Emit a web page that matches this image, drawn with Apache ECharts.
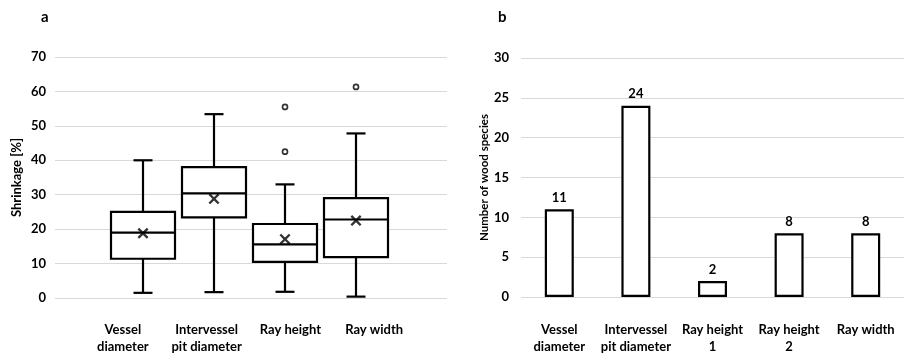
<!DOCTYPE html>
<html>
<head>
<meta charset="utf-8">
<script src="https://cdn.jsdelivr.net/npm/echarts@6/dist/echarts.min.js"></script>
<style>
  html, body { margin: 0; padding: 0; background: #fff; }
  #chart { width: 904px; height: 355px; }
</style>
</head>
<body>
<div id="chart"></div>
<script>
// panel a: shrinkage box plots  [min, Q1, median, Q3, max]
const boxCategories = ['Vessel\ndiameter', 'Intervessel\npit diameter', 'Ray height', 'Ray width'];
const boxStats = [
    [1.5, 11.4, 19.0, 25.0, 40.0],
    [1.7, 23.4, 30.4, 38.0, 53.4],
    [1.8, 10.5, 15.6, 21.5, 33.0],
    [0.4, 11.9, 22.8, 29.0, 47.8]
];
const boxMeans = [18.8, 28.8, 17.1, 22.5];
const boxOutliers = [[2, 55.5], [2, 42.5], [3, 61.3]];

// panel b: number of wood species
const barCategories = ['Vessel\ndiameter', 'Intervessel\npit diameter', 'Ray height\n1', 'Ray height\n2', 'Ray width'];
const barValues = [11, 24, 2, 8, 8];

const FONT = 'Lato, "Open Sans", sans-serif';
const TXT = '#000';
const GRID_LINE = '#d9d9d9';

const chart = echarts.init(document.getElementById('chart'));

const options = {
    animation: false,
    textStyle: { fontFamily: FONT },
    title: [
        { text: 'a', left: 36, top: 5, textStyle: { fontSize: 15, fontWeight: 'bold', color: TXT, fontFamily: FONT } },
        { text: 'b', left: 493, top: 5, textStyle: { fontSize: 15, fontWeight: 'bold', color: TXT, fontFamily: FONT } }
    ],
    grid: [
        { left: 55, top: 57, width: 392, height: 241 },    // a: background + y axis
        { left: 107.5, top: 57, width: 284, height: 241 }, // a: boxes
        { left: 81, top: 57, width: 335, height: 241 },    // a: category labels
        { left: 521, top: 58, width: 386, height: 240 }    // b
    ],
    xAxis: [
        { gridIndex: 0, type: 'category', data: [''], axisLine: { show: false }, axisTick: { show: false }, axisLabel: { show: false } },
        { gridIndex: 1, type: 'category', data: boxCategories, show: false },
        {
            gridIndex: 2, type: 'category', data: boxCategories,
            axisLine: { show: false }, axisTick: { show: false },
            axisLabel: { margin: 24, fontSize: 13, fontWeight: 'bold', color: TXT, lineHeight: 17, fontFamily: FONT, interval: 0 }
        },
        {
            gridIndex: 3, type: 'category', data: barCategories,
            axisLine: { show: false }, axisTick: { show: false },
            axisLabel: { margin: 24, fontSize: 13, fontWeight: 'bold', color: TXT, lineHeight: 17, fontFamily: FONT, interval: 0 }
        }
    ],
    yAxis: [
        {
            gridIndex: 0, type: 'value', min: 0, max: 70, interval: 10,
            name: 'Shrinkage [%]', nameLocation: 'middle', nameGap: 32,
            nameTextStyle: { fontSize: 13, fontWeight: 'bold', color: TXT, fontFamily: FONT },
            axisLine: { show: false }, axisTick: { show: false },
            axisLabel: { fontSize: 13, fontWeight: 'bold', color: TXT, margin: 9, fontFamily: FONT },
            splitLine: { lineStyle: { color: GRID_LINE, width: 1 } }
        },
        { gridIndex: 1, type: 'value', min: 0, max: 70, show: false, splitLine: { show: false } },
        { gridIndex: 2, type: 'value', min: 0, max: 70, show: false, splitLine: { show: false } },
        {
            gridIndex: 3, type: 'value', min: 0, max: 30, interval: 5,
            name: 'Number of wood species', nameLocation: 'middle', nameGap: 27,
            nameTextStyle: { fontSize: 11.5, fontWeight: 'bold', color: TXT, fontFamily: FONT },
            axisLine: { show: false }, axisTick: { show: false },
            axisLabel: { fontSize: 13, fontWeight: 'bold', color: TXT, margin: 12, fontFamily: FONT },
            splitLine: { lineStyle: { color: GRID_LINE, width: 1 } }
        }
    ],
    series: [
        {
            type: 'custom',
            xAxisIndex: 1, yAxisIndex: 1,
            data: boxStats.map((s, i) => [i].concat(s)),
            encode: { x: 0, y: [1, 2, 3, 4, 5] },
            renderItem: function (params, api) {
                const i = api.value(0);
                const pMin = api.coord([i, api.value(1)]);
                const pQ1 = api.coord([i, api.value(2)]);
                const pMed = api.coord([i, api.value(3)]);
                const pQ3 = api.coord([i, api.value(4)]);
                const pMax = api.coord([i, api.value(5)]);
                const x = pMed[0];
                const half = 32, cap = 9.5;
                const st = { stroke: '#000', lineWidth: 2.2, fill: null };
                return {
                    type: 'group',
                    children: [
                        { type: 'line', shape: { x1: x, y1: pQ3[1], x2: x, y2: pMax[1] }, style: st },
                        { type: 'line', shape: { x1: x, y1: pQ1[1], x2: x, y2: pMin[1] }, style: st },
                        { type: 'line', shape: { x1: x - cap, y1: pMax[1], x2: x + cap, y2: pMax[1] }, style: st },
                        { type: 'line', shape: { x1: x - cap, y1: pMin[1], x2: x + cap, y2: pMin[1] }, style: st },
                        { type: 'rect', shape: { x: x - half, y: pQ3[1], width: half * 2, height: pQ1[1] - pQ3[1] }, style: { stroke: '#000', lineWidth: 2.2, fill: '#fff' } },
                        { type: 'line', shape: { x1: x - half, y1: pMed[1], x2: x + half, y2: pMed[1] }, style: st }
                    ]
                };
            },
            z: 2
        },
        {
            type: 'scatter',
            xAxisIndex: 1, yAxisIndex: 1,
            data: boxMeans.map((v, i) => [i, v]),
            symbol: 'path://M0,1.5L1.5,0L5,3.5L8.5,0L10,1.5L6.5,5L10,8.5L8.5,10L5,6.5L1.5,10L0,8.5L3.5,5Z',
            symbolSize: 11,
            itemStyle: { color: '#000' },
            z: 5
        },
        {
            type: 'scatter',
            xAxisIndex: 1, yAxisIndex: 1,
            data: boxOutliers,
            symbol: 'circle',
            symbolSize: 5,
            itemStyle: { color: '#fff', borderColor: '#000', borderWidth: 1.7 },
            z: 5
        },
        {
            type: 'bar',
            xAxisIndex: 3, yAxisIndex: 3,
            data: barValues,
            barWidth: 29,
            itemStyle: { color: '#fff', borderColor: '#000', borderWidth: 2.2 },
            label: { show: true, position: 'top', distance: 5, fontSize: 13, fontWeight: 'bold', color: TXT, fontFamily: FONT }
        }
    ]
};

chart.setOption(options);
</script>
</body>
</html>
